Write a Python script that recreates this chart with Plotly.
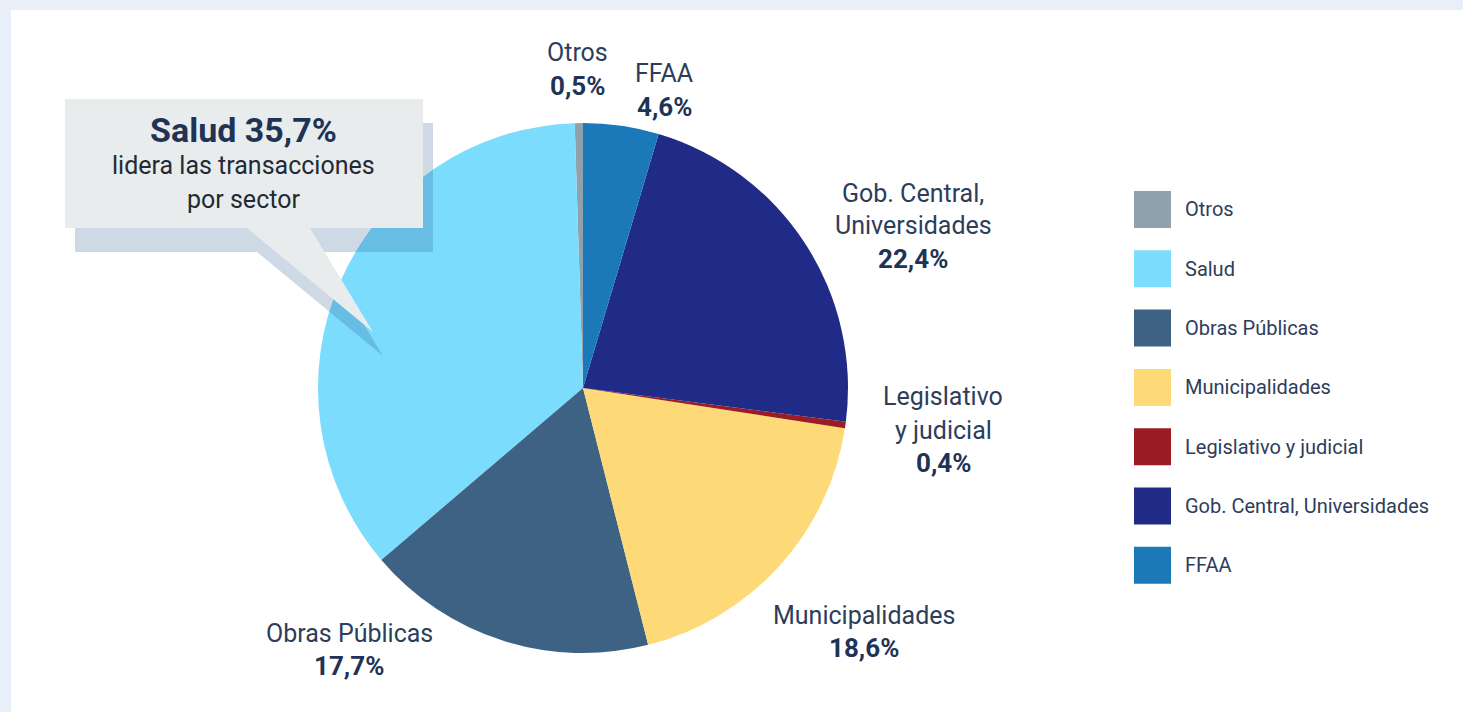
import plotly.graph_objects as go

# ---- data ----
sectors = ["Otros", "Salud", "Obras Públicas", "Municipalidades",
           "Legislativo y judicial", "Gob. Central, Universidades", "FFAA"]
values = [0.5, 35.7, 17.7, 18.6, 0.4, 22.4, 4.6]
colors = ["#8fa1ad", "#7bdcfd", "#3d6283", "#fed978", "#9b1c22", "#1f2b87", "#1b79b9"]
label_lines = [["Otros"], ["Salud"], ["Obras Públicas"], ["Municipalidades"],
               ["Legislativo", "y judicial"], ["Gob. Central,", "Universidades"], ["FFAA"]]
callout_title = "Salud 35,7%"
callout_lines = ["lidera las transacciones", "por sector"]

W, H = 1463, 712
FONT = "Roboto, 'Open Sans', sans-serif"
TXT = "#2d3d5a"
BOLD = "#1f3354"


def px(x):
    return x / W


def py(y):
    return 1 - y / H


def pct(v):
    return f"{v:.1f}".replace(".", ",") + "%"


fig = go.Figure()

cx, cy, r = 583, 388, 265
# first slice (Otros) should end exactly at 12 o'clock, to its left
start_rot = -values[0] / sum(values) * 360
fig.add_trace(go.Pie(
    labels=sectors, values=values, sort=False, direction="counterclockwise",
    rotation=start_rot, marker=dict(colors=colors, line=dict(width=0)),
    textinfo="none", hoverinfo="label+percent", showlegend=False,
    domain=dict(x=[px(cx - r), px(cx + r)], y=[py(cy + r), py(cy - r)]),
))

shapes = []
annotations = []

# white card on light background
shapes.append(dict(type="rect", xref="paper", yref="paper", layer="below",
                   x0=px(11), x1=1.01, y0=-0.01, y1=py(10),
                   fillcolor="#ffffff", line=dict(width=0)))

# ---- slice labels (positions in pixels: center x, first-line center y) ----
label_pos = {
    "Otros": (577, 53),
    "FFAA": (664, 74),
    "Gob. Central, Universidades": (913, 193),
    "Legislativo y judicial": (943, 397),
    "Municipalidades": (864, 615),
    "Obras Públicas": (349, 633),
}
LH = 33
for name, val, lines in zip(sectors, values, label_lines):
    if name not in label_pos:
        continue
    x, y0 = label_pos[name]
    all_lines = [(l, False) for l in lines] + [(pct(val), True)]
    for i, (t, b) in enumerate(all_lines):
        annotations.append(dict(
            x=px(x), y=py(y0 + i * LH), xref="paper", yref="paper",
            text=f"<b>{t}</b>" if b else t, showarrow=False,
            xanchor="center", yanchor="middle",
            font=dict(family=FONT, size=26 if b else 25, color=BOLD if b else TXT)))

# ---- callout with shadow ----
def path_from(pts):
    return "M " + " L ".join(f"{px(a)},{py(b)}" for a, b in pts) + " Z"

dx, dy = 10, 24
box = [(65, 99), (423, 99), (423, 228), (310, 228), (373, 332), (247, 228), (65, 228)]
shadow = [(a + dx, b + dy) for a, b in box]
shapes.append(dict(type="path", xref="paper", yref="paper", layer="above",
                   path=path_from(shadow), fillcolor="rgba(35,80,140,0.22)",
                   line=dict(width=0)))
shapes.append(dict(type="path", xref="paper", yref="paper", layer="above",
                   path=path_from(box), fillcolor="#e9eced",
                   line=dict(width=0)))
annotations.append(dict(x=px(243), y=py(130), xref="paper", yref="paper",
                        text=f"<b>{callout_title}</b>", showarrow=False,
                        xanchor="center", yanchor="middle",
                        font=dict(family=FONT, size=34, color=BOLD)))
for i, t in enumerate(callout_lines):
    annotations.append(dict(x=px(243), y=py(166 + i * 33), xref="paper", yref="paper",
                            text=t, showarrow=False, xanchor="center", yanchor="middle",
                            font=dict(family=FONT, size=25, color="#222a35")))

# ---- legend (custom, large swatches) ----
lx, ly0, sw, step = 1134, 191, 37, 59.3
for i, (name, col) in enumerate(zip(sectors, colors)):
    y = ly0 + i * step
    shapes.append(dict(type="rect", xref="paper", yref="paper", layer="above",
                       x0=px(lx), x1=px(lx + sw), y0=py(y + sw), y1=py(y),
                       fillcolor=col, line=dict(width=0)))
    annotations.append(dict(x=px(lx + 49), y=py(y + sw / 2), xref="paper", yref="paper",
                            text=name, showarrow=False, xanchor="left", yanchor="middle",
                            font=dict(family=FONT, size=20, color=TXT)))

fig.update_layout(
    width=W, height=H, margin=dict(l=0, r=0, t=0, b=0),
    paper_bgcolor="#e9eff8", plot_bgcolor="#ffffff",
    shapes=shapes, annotations=annotations, showlegend=False,
)

fig.write_html("out.html", config={"displayModeBar": False},
               post_script="document.body.style.margin='0';document.body.style.overflow='hidden';")
